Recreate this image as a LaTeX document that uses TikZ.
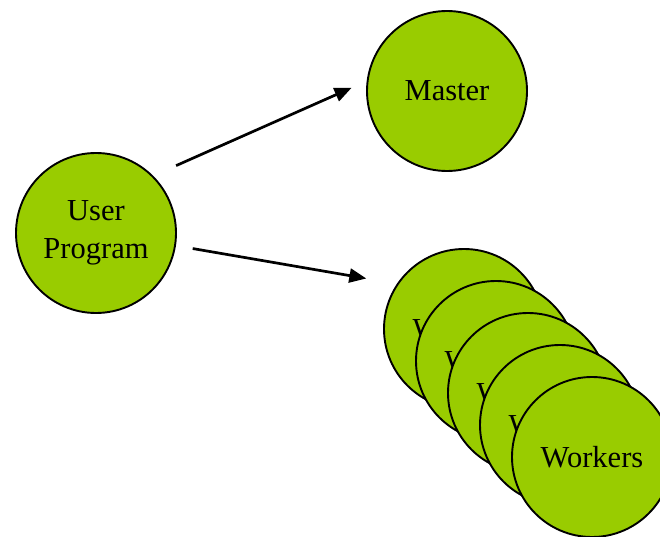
\documentclass[tikz,border=0pt]{standalone}
\usepackage{fontspec}
\setmainfont{Liberation Serif}
\usepackage{tikz}
\usetikzlibrary{arrows.meta, positioning, calc}
\definecolor{mrGreen}{HTML}{99CC00}

\begin{document}
\begin{tikzpicture}[x=1pt, y=-1pt,
    proc/.style={circle, draw=black, line width=1.9pt, fill=mrGreen,
                 minimum size=160pt, inner sep=0pt, align=center,
                 font=\fontsize{30.5}{38.5}\selectfont},
    msg/.style={line width=2.7pt, -{Triangle[length=17pt,width=14pt]}}]
  % ramka rysunku
  \clip (0,0) rectangle (660,537);
  % program użytkownika i master
  \node[proc] (user)   at (96,233) {User\\Program};
  \node[proc] (master) at (447,91) {Master};
  % stos workerów — każdy kolejny przesunięty o (32,32)
  \foreach \i in {1,...,5}{
    \node[proc] (w\i) at ({464+32*(\i-1)},{329+32*(\i-1)}) {Workers};
  }
  % strzałki
  \draw[msg, shorten <=25pt, shorten >=16.5pt] (user.45) -- (master.173);
  \draw[msg, shorten <=17pt, shorten >=31pt] (user.-9.5) -- (w1.146);
\end{tikzpicture}
\end{document}
